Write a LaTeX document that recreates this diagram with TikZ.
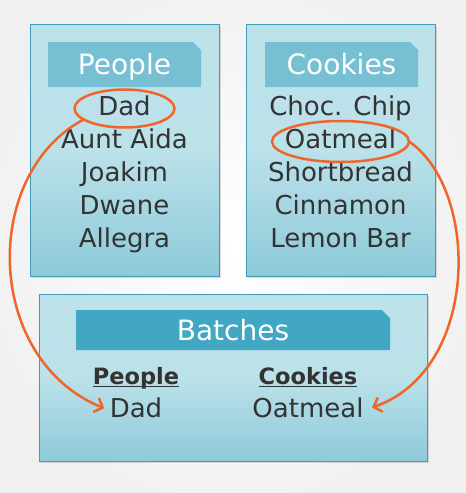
\documentclass[tikz,border=0pt]{standalone}
\usepackage{fontspec}
\setmainfont{DejaVu Sans}
\newcommand\ulword[1]{\setbox0\hbox{#1}\rlap{\rule[-3pt]{\wd0}{1.2pt}}\box0}
\usetikzlibrary{shapes.misc,shapes.geometric,shadows,arrows.meta}
\definecolor{paneltop}{HTML}{BDE2EA}
\definecolor{panelbot}{HTML}{8DCAD9}
\definecolor{panelline}{HTML}{3F9CB6}
\definecolor{headlight}{HTML}{77C0D3}
\definecolor{headdark}{HTML}{41A7C2}
\definecolor{ringc}{HTML}{F0652A}
\definecolor{ink}{HTML}{333333}

\begin{document}
\begin{tikzpicture}[x=1pt,y=-1pt,outer sep=0pt]
\tikzstyle{panel}=[draw=panelline, line width=0.8pt, top color=paneltop,
    bottom color=panelbot, middle color=paneltop!96!panelbot,
    drop shadow={shadow xshift=1.5pt, shadow yshift=-2pt, opacity=0.25}]
\tikzstyle{header}=[chamfered rectangle, chamfered rectangle corners=north east,
    chamfered rectangle sep=4pt, inner sep=0pt, text=white,
    font=\fontsize{28}{32}\selectfont, text height=20pt, text depth=0pt]
\tikzstyle{item}=[text=ink, font=\fontsize{26}{30}\selectfont, inner sep=0pt,
    minimum height=33pt, text height=19pt, text depth=6pt]
\tikzstyle{colhead}=[item, font=\fontsize{22.5}{28}\selectfont\bfseries]
\tikzstyle{ring}=[ellipse, draw=ringc, line width=2.5pt, inner sep=0pt]
\tikzstyle{link}=[draw=ringc, line width=2.5pt,
    -{Straight Barb[length=7pt,width=15pt]}]
    \useasboundingbox (0,0) rectangle (466,493);
    \shade[inner color=white, outer color=black!6] (-40,-40) rectangle (506,533);
    % source tables
    \node (peoplebox) [panel, minimum width=189pt, minimum height=252pt] at (124.5,150) {};
    \node (cookiebox) [panel, minimum width=189pt, minimum height=252pt] at (340.5,150) {};
    \node (peoplehead) [header, fill=headlight, minimum width=153pt, minimum height=45pt] at (124.5,64.5) {People};
    \node (cookiehead) [header, fill=headlight, minimum width=153pt, minimum height=45pt] at (341.5,64.5) {Cookies};
    \node (dad) [item] at (124.5,108.5) {Dad};
    \node (aida) [item,anchor=north] at (dad.south) {Aunt Aida};
    \node (joakim) [item,anchor=north] at (aida.south) {Joakim};
    \node (dwane) [item,anchor=north] at (joakim.south) {Dwane};
    \node (allegra) [item,anchor=north] at (dwane.south) {Allegra};
    \node (choc) [item] at (340.5,108.5) {Choc. Chip};
    \node (oat) [item,anchor=north] at (choc.south) {Oatmeal};
    \node (short) [item,anchor=north] at (oat.south) {Shortbread};
    \node (cinn) [item,anchor=north] at (short.south) {Cinnamon};
    \node (lemon) [item,anchor=north] at (cinn.south) {Lemon Bar};
    % join table
    \node (batchbox) [panel, minimum width=388pt, minimum height=167pt] at (233,377.5) {};
    \node (batchhead) [header, fill=headdark, minimum width=314pt, minimum height=40pt] at (233,330) {Batches};
    \node (bpeople) [colhead] at (136,377.5) {\ulword{People}};
    \node (bdad) [item,anchor=north] at (bpeople.south) {Dad};
    \node (bcookie) [colhead] at (308,377.5) {\ulword{Cookies}};
    \node (boat) [item,anchor=north] at (bcookie.south) {Oatmeal};
    % picks
    \node (dadring) [ring, minimum width=100pt, minimum height=38pt] at (dad) {};
    \node (oatring) [ring, minimum width=137pt, minimum height=41pt] at (oat) {};
    \draw[link, shorten >=6pt] (dadring.195) .. controls (-20,175) and (-15,360) .. (bdad.west);
    \draw[link, shorten >=9pt] (oatring.east) .. controls (480,190) and (480,370) .. (boat.east);
\end{tikzpicture}
\end{document}
